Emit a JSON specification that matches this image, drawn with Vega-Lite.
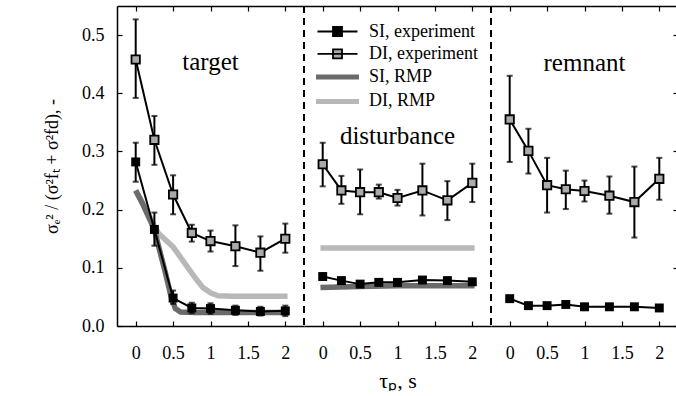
{
  "$schema": "https://vega.github.io/schema/vega-lite/v6.json",
  "padding": {"left": 43, "top": 5, "right": 0, "bottom": 0},
  "spacing": 0,
  "bounds": "flush",
  "datasets": {
    "exp": [
      {"panel": "target", "series": "SI, experiment", "x": 0, "y": 0.282, "lo": 0.248, "hi": 0.315},
      {"panel": "target", "series": "SI, experiment", "x": 0.25, "y": 0.166, "lo": 0.138, "hi": 0.195},
      {"panel": "target", "series": "SI, experiment", "x": 0.5, "y": 0.048, "lo": 0.038, "hi": 0.061},
      {"panel": "target", "series": "SI, experiment", "x": 0.75, "y": 0.031, "lo": 0.022, "hi": 0.040},
      {"panel": "target", "series": "SI, experiment", "x": 1, "y": 0.030, "lo": 0.021, "hi": 0.039},
      {"panel": "target", "series": "SI, experiment", "x": 1.333, "y": 0.027, "lo": 0.019, "hi": 0.035},
      {"panel": "target", "series": "SI, experiment", "x": 1.667, "y": 0.025, "lo": 0.018, "hi": 0.033},
      {"panel": "target", "series": "SI, experiment", "x": 2, "y": 0.026, "lo": 0.017, "hi": 0.035},
      {"panel": "target", "series": "DI, experiment", "x": 0, "y": 0.458, "lo": 0.392, "hi": 0.527},
      {"panel": "target", "series": "DI, experiment", "x": 0.25, "y": 0.320, "lo": 0.277, "hi": 0.361},
      {"panel": "target", "series": "DI, experiment", "x": 0.5, "y": 0.226, "lo": 0.192, "hi": 0.259},
      {"panel": "target", "series": "DI, experiment", "x": 0.75, "y": 0.160, "lo": 0.145, "hi": 0.174},
      {"panel": "target", "series": "DI, experiment", "x": 1, "y": 0.146, "lo": 0.128, "hi": 0.164},
      {"panel": "target", "series": "DI, experiment", "x": 1.333, "y": 0.137, "lo": 0.103, "hi": 0.173},
      {"panel": "target", "series": "DI, experiment", "x": 1.667, "y": 0.126, "lo": 0.095, "hi": 0.154},
      {"panel": "target", "series": "DI, experiment", "x": 2, "y": 0.150, "lo": 0.126, "hi": 0.176},
      {"panel": "disturbance", "series": "SI, experiment", "x": 0, "y": 0.085, "lo": 0.080, "hi": 0.090},
      {"panel": "disturbance", "series": "SI, experiment", "x": 0.25, "y": 0.078, "lo": 0.073, "hi": 0.083},
      {"panel": "disturbance", "series": "SI, experiment", "x": 0.5, "y": 0.072, "lo": 0.067, "hi": 0.077},
      {"panel": "disturbance", "series": "SI, experiment", "x": 0.75, "y": 0.075, "lo": 0.070, "hi": 0.080},
      {"panel": "disturbance", "series": "SI, experiment", "x": 1, "y": 0.075, "lo": 0.070, "hi": 0.080},
      {"panel": "disturbance", "series": "SI, experiment", "x": 1.333, "y": 0.079, "lo": 0.074, "hi": 0.084},
      {"panel": "disturbance", "series": "SI, experiment", "x": 1.667, "y": 0.078, "lo": 0.073, "hi": 0.083},
      {"panel": "disturbance", "series": "SI, experiment", "x": 2, "y": 0.076, "lo": 0.071, "hi": 0.081},
      {"panel": "disturbance", "series": "DI, experiment", "x": 0, "y": 0.278, "lo": 0.240, "hi": 0.315},
      {"panel": "disturbance", "series": "DI, experiment", "x": 0.25, "y": 0.233, "lo": 0.210, "hi": 0.258},
      {"panel": "disturbance", "series": "DI, experiment", "x": 0.5, "y": 0.230, "lo": 0.192, "hi": 0.269},
      {"panel": "disturbance", "series": "DI, experiment", "x": 0.75, "y": 0.230, "lo": 0.219, "hi": 0.243},
      {"panel": "disturbance", "series": "DI, experiment", "x": 1, "y": 0.220, "lo": 0.207, "hi": 0.234},
      {"panel": "disturbance", "series": "DI, experiment", "x": 1.333, "y": 0.233, "lo": 0.190, "hi": 0.279},
      {"panel": "disturbance", "series": "DI, experiment", "x": 1.667, "y": 0.216, "lo": 0.182, "hi": 0.249},
      {"panel": "disturbance", "series": "DI, experiment", "x": 2, "y": 0.246, "lo": 0.213, "hi": 0.279},
      {"panel": "remnant", "series": "SI, experiment", "x": 0, "y": 0.047, "lo": 0.043, "hi": 0.051},
      {"panel": "remnant", "series": "SI, experiment", "x": 0.25, "y": 0.035, "lo": 0.031, "hi": 0.039},
      {"panel": "remnant", "series": "SI, experiment", "x": 0.5, "y": 0.035, "lo": 0.031, "hi": 0.039},
      {"panel": "remnant", "series": "SI, experiment", "x": 0.75, "y": 0.037, "lo": 0.033, "hi": 0.041},
      {"panel": "remnant", "series": "SI, experiment", "x": 1, "y": 0.033, "lo": 0.029, "hi": 0.037},
      {"panel": "remnant", "series": "SI, experiment", "x": 1.333, "y": 0.033, "lo": 0.029, "hi": 0.037},
      {"panel": "remnant", "series": "SI, experiment", "x": 1.667, "y": 0.033, "lo": 0.029, "hi": 0.037},
      {"panel": "remnant", "series": "SI, experiment", "x": 2, "y": 0.031, "lo": 0.027, "hi": 0.035},
      {"panel": "remnant", "series": "DI, experiment", "x": 0, "y": 0.355, "lo": 0.282, "hi": 0.430},
      {"panel": "remnant", "series": "DI, experiment", "x": 0.25, "y": 0.301, "lo": 0.262, "hi": 0.339},
      {"panel": "remnant", "series": "DI, experiment", "x": 0.5, "y": 0.242, "lo": 0.195, "hi": 0.289},
      {"panel": "remnant", "series": "DI, experiment", "x": 0.75, "y": 0.235, "lo": 0.201, "hi": 0.267},
      {"panel": "remnant", "series": "DI, experiment", "x": 1, "y": 0.232, "lo": 0.214, "hi": 0.250},
      {"panel": "remnant", "series": "DI, experiment", "x": 1.333, "y": 0.224, "lo": 0.193, "hi": 0.257},
      {"panel": "remnant", "series": "DI, experiment", "x": 1.667, "y": 0.213, "lo": 0.152, "hi": 0.274},
      {"panel": "remnant", "series": "DI, experiment", "x": 2, "y": 0.253, "lo": 0.217, "hi": 0.289}
    ],
    "rmp": [
      {"panel": "target", "series": "SI, RMP", "x": 0, "y": 0.233},
      {"panel": "target", "series": "SI, RMP", "x": 0.1, "y": 0.208},
      {"panel": "target", "series": "SI, RMP", "x": 0.2, "y": 0.18},
      {"panel": "target", "series": "SI, RMP", "x": 0.25, "y": 0.165},
      {"panel": "target", "series": "SI, RMP", "x": 0.3, "y": 0.14},
      {"panel": "target", "series": "SI, RMP", "x": 0.4, "y": 0.09},
      {"panel": "target", "series": "SI, RMP", "x": 0.47, "y": 0.052},
      {"panel": "target", "series": "SI, RMP", "x": 0.53, "y": 0.03},
      {"panel": "target", "series": "SI, RMP", "x": 0.6, "y": 0.024},
      {"panel": "target", "series": "SI, RMP", "x": 0.8, "y": 0.023},
      {"panel": "target", "series": "SI, RMP", "x": 2.03, "y": 0.023},
      {"panel": "target", "series": "DI, RMP", "x": 0, "y": 0.233},
      {"panel": "target", "series": "DI, RMP", "x": 0.1, "y": 0.21},
      {"panel": "target", "series": "DI, RMP", "x": 0.2, "y": 0.185},
      {"panel": "target", "series": "DI, RMP", "x": 0.25, "y": 0.172},
      {"panel": "target", "series": "DI, RMP", "x": 0.3, "y": 0.16},
      {"panel": "target", "series": "DI, RMP", "x": 0.4, "y": 0.148},
      {"panel": "target", "series": "DI, RMP", "x": 0.5, "y": 0.136},
      {"panel": "target", "series": "DI, RMP", "x": 0.6, "y": 0.118},
      {"panel": "target", "series": "DI, RMP", "x": 0.7, "y": 0.1},
      {"panel": "target", "series": "DI, RMP", "x": 0.8, "y": 0.082},
      {"panel": "target", "series": "DI, RMP", "x": 0.9, "y": 0.066},
      {"panel": "target", "series": "DI, RMP", "x": 1.0, "y": 0.057},
      {"panel": "target", "series": "DI, RMP", "x": 1.1, "y": 0.052},
      {"panel": "target", "series": "DI, RMP", "x": 1.3, "y": 0.051},
      {"panel": "target", "series": "DI, RMP", "x": 2.03, "y": 0.051},
      {"panel": "disturbance", "series": "SI, RMP", "x": -0.03, "y": 0.066},
      {"panel": "disturbance", "series": "SI, RMP", "x": 0.5, "y": 0.068},
      {"panel": "disturbance", "series": "SI, RMP", "x": 1, "y": 0.069},
      {"panel": "disturbance", "series": "SI, RMP", "x": 2.03, "y": 0.069},
      {"panel": "disturbance", "series": "DI, RMP", "x": -0.03, "y": 0.134},
      {"panel": "disturbance", "series": "DI, RMP", "x": 2.03, "y": 0.134}
    ],
    "lab": [
      {"panel": "target", "x": 1.0, "y": 0.44, "label": "target"},
      {"panel": "disturbance", "x": 1.0, "y": 0.312, "label": "disturbance"},
      {"panel": "remnant", "x": 1.0, "y": 0.439, "label": "remnant"}
    ]
  },
  "hconcat": [
    {
      "width": 187, "height": 320,
      "layer": [
        {
          "encoding": {
            "x": {"field": "x", "type": "quantitative", "scale": {"domain": [-0.25, 2.25], "nice": false, "zero": false},
                  "axis": {"orient": "bottom", "values": [0, 0.5, 1, 1.5, 2], "format": "~g", "tickSize": -5, "labelPadding": 23, "title": null}},
            "y": {"field": "y", "type": "quantitative", "scale": {"domain": [0, 0.55], "nice": false},
                  "axis": {"orient": "left", "values": [0, 0.1, 0.2, 0.3, 0.4, 0.5], "format": ".1f", "tickSize": -5, "labelPadding": 18, "title": "σₑ² / (σ²fₜ + σ²fd), -", "titleFontSize": 18, "titlePadding": 20}}
          },
          "layer": [
            {"data": {"name": "rmp"}, "transform": [{"filter": "datum.panel == 'target' && datum.series == 'DI, RMP'"}],
             "mark": {"type": "line", "color": "#b8b8b8", "strokeWidth": 5.5}},
            {"data": {"name": "rmp"}, "transform": [{"filter": "datum.panel == 'target' && datum.series == 'SI, RMP'"}],
             "mark": {"type": "line", "color": "#6b6b6b", "strokeWidth": 5.5}},
            {"data": {"name": "exp"}, "transform": [{"filter": "datum.panel == 'target'"}],
             "mark": {"type": "line", "color": "black", "strokeWidth": 2},
             "encoding": {"detail": {"field": "series"}}},
            {"data": {"name": "exp"}, "transform": [{"filter": "datum.panel == 'target'"}],
             "mark": {"type": "errorbar", "color": "black", "thickness": 2, "ticks": {"size": 6, "thickness": 2, "color": "black"}},
             "encoding": {"y": {"field": "lo", "type": "quantitative"}, "y2": {"field": "hi"}}},
            {"data": {"name": "exp"}, "transform": [{"filter": "datum.panel == 'target' && datum.series == 'SI, experiment'"}],
             "mark": {"type": "square", "size": 80, "color": "black", "opacity": 1}},
            {"data": {"name": "exp"}, "transform": [{"filter": "datum.panel == 'target' && datum.series == 'DI, experiment'"}],
             "mark": {"type": "square", "size": 70, "fill": "#aaaaaa", "stroke": "black", "strokeWidth": 1.8, "opacity": 1}}
          ]
        },
        {"data": {"name": "lab"}, "transform": [{"filter": "datum.panel == 'target'"}],
         "mark": {"type": "rule", "color": "black", "strokeWidth": 2, "strokeDash": [7, 5]},
         "encoding": {"x": {"datum": 2.25, "type": "quantitative", "scale": {"domain": [-0.25, 2.25], "nice": false, "zero": false}, "axis": null}}},
        {"data": {"name": "lab"}, "transform": [{"filter": "datum.panel == 'target'"}],
         "mark": {"type": "text", "font": "Liberation Serif", "fontSize": 25, "baseline": "alphabetic", "align": "center", "color": "black"},
         "encoding": {
           "x": {"field": "x", "type": "quantitative", "scale": {"domain": [-0.25, 2.25], "nice": false, "zero": false},
                 "axis": {"orient": "top", "values": [0, 0.5, 1, 1.5, 2], "labels": false, "tickSize": -5, "title": null}},
           "y": {"field": "y", "type": "quantitative", "scale": {"domain": [0, 0.55], "nice": false}, "axis": null},
           "text": {"field": "label"}
         }}
      ],
      "resolve": {"axis": {"x": "independent", "y": "independent"}}
    },
    {
      "width": 187, "height": 320,
      "layer": [
        {
          "encoding": {
            "x": {"field": "x", "type": "quantitative", "scale": {"domain": [-0.25, 2.25], "nice": false, "zero": false},
                  "axis": {"orient": "bottom", "values": [0, 0.5, 1, 1.5, 2], "format": "~g", "tickSize": -5, "labelPadding": 23, "title": "τₚ, s", "titleFontSize": 22, "titlePadding": 8}},
            "y": {"field": "y", "type": "quantitative", "scale": {"domain": [0, 0.55], "nice": false}, "axis": null}
          },
          "layer": [
            {"data": {"name": "rmp"}, "transform": [{"filter": "datum.panel == 'disturbance' && datum.series == 'DI, RMP'"}],
             "mark": {"type": "line", "color": "#b8b8b8", "strokeWidth": 5.5}},
            {"data": {"name": "rmp"}, "transform": [{"filter": "datum.panel == 'disturbance' && datum.series == 'SI, RMP'"}],
             "mark": {"type": "line", "color": "#6b6b6b", "strokeWidth": 5.5}},
            {"data": {"name": "exp"}, "transform": [{"filter": "datum.panel == 'disturbance'"}],
             "mark": {"type": "line", "color": "black", "strokeWidth": 2},
             "encoding": {"detail": {"field": "series"}}},
            {"data": {"name": "exp"}, "transform": [{"filter": "datum.panel == 'disturbance'"}],
             "mark": {"type": "errorbar", "color": "black", "thickness": 2, "ticks": {"size": 6, "thickness": 2, "color": "black"}},
             "encoding": {"y": {"field": "lo", "type": "quantitative"}, "y2": {"field": "hi"}}},
            {"data": {"name": "exp"}, "transform": [{"filter": "datum.panel == 'disturbance' && datum.series == 'SI, experiment'"}],
             "mark": {"type": "square", "size": 80, "color": "black", "opacity": 1}},
            {"data": {"name": "exp"}, "transform": [{"filter": "datum.panel == 'disturbance' && datum.series == 'DI, experiment'"}],
             "mark": {"type": "square", "size": 70, "fill": "#aaaaaa", "stroke": "black", "strokeWidth": 1.8, "opacity": 1}},
            {"data": {"name": "exp"}, "transform": [{"filter": "datum.panel == 'legend-only'"}],
             "mark": {"type": "point", "filled": true, "opacity": 1},
             "encoding": {
               "shape": {"field": "series", "type": "nominal",
                         "scale": {"domain": ["SI, experiment", "DI, experiment", "SI, RMP", "DI, RMP"],
                                   "range": ["M-4,0H4M-0.9,-0.9H0.9V0.9H-0.9Z", "M-4,0H4M-0.9,-0.9H0.9V0.9H-0.9Z", "M-4.3,0H4.3", "M-4.3,0H4.3"]},
                         "legend": {"title": null, "orient": "none", "legendX": 211.5, "legendY": 16.5, "labelOffset": 22.5, "rowPadding": 4.3, "padding": 0, "symbolSize": 100}},
               "fill": {"field": "series", "type": "nominal",
                        "scale": {"domain": ["SI, experiment", "DI, experiment", "SI, RMP", "DI, RMP"],
                                  "range": ["black", "#aaaaaa", "transparent", "transparent"]},
                        "legend": {"title": null, "orient": "none", "legendX": 211.5, "legendY": 16.5, "labelOffset": 22.5, "rowPadding": 4.3, "padding": 0, "symbolSize": 100}},
               "stroke": {"field": "series", "type": "nominal",
                          "scale": {"domain": ["SI, experiment", "DI, experiment", "SI, RMP", "DI, RMP"],
                                    "range": ["black", "black", "#6b6b6b", "#b8b8b8"]},
                          "legend": {"title": null, "orient": "none", "legendX": 211.5, "legendY": 16.5, "labelOffset": 22.5, "rowPadding": 4.3, "padding": 0, "symbolSize": 100}},
               "strokeWidth": {"field": "series", "type": "nominal",
                               "scale": {"type": "ordinal", "domain": ["SI, experiment", "DI, experiment", "SI, RMP", "DI, RMP"],
                                         "range": [1.8, 1.8, 5, 5]},
                               "legend": {"title": null, "orient": "none", "legendX": 211.5, "legendY": 16.5, "labelOffset": 22.5, "rowPadding": 4.3, "padding": 0, "symbolSize": 100}}
             }}
          ]
        },
        {"data": {"name": "lab"}, "transform": [{"filter": "datum.panel == 'disturbance'"}],
         "mark": {"type": "rule", "color": "black", "strokeWidth": 2, "strokeDash": [7, 5]},
         "encoding": {"x": {"datum": 2.25, "type": "quantitative", "scale": {"domain": [-0.25, 2.25], "nice": false, "zero": false}, "axis": null}}},
        {"data": {"name": "lab"}, "transform": [{"filter": "datum.panel == 'disturbance'"}],
         "mark": {"type": "text", "font": "Liberation Serif", "fontSize": 25, "baseline": "alphabetic", "align": "center", "color": "black"},
         "encoding": {
           "x": {"field": "x", "type": "quantitative", "scale": {"domain": [-0.25, 2.25], "nice": false, "zero": false},
                 "axis": {"orient": "top", "values": [0, 0.5, 1, 1.5, 2], "labels": false, "tickSize": -5, "title": null}},
           "y": {"field": "y", "type": "quantitative", "scale": {"domain": [0, 0.55], "nice": false}, "axis": null},
           "text": {"field": "label"}
         }}
      ],
      "resolve": {"axis": {"x": "independent", "y": "independent"}}
    },
    {
      "width": 187, "height": 320,
      "layer": [
        {
          "encoding": {
            "x": {"field": "x", "type": "quantitative", "scale": {"domain": [-0.25, 2.25], "nice": false, "zero": false},
                  "axis": {"orient": "bottom", "values": [0, 0.5, 1, 1.5, 2], "format": "~g", "tickSize": -5, "labelPadding": 23, "title": null}},
            "y": {"field": "y", "type": "quantitative", "scale": {"domain": [0, 0.55], "nice": false}, "axis": null}
          },
          "layer": [
            {"data": {"name": "exp"}, "transform": [{"filter": "datum.panel == 'remnant'"}],
             "mark": {"type": "line", "color": "black", "strokeWidth": 2},
             "encoding": {"detail": {"field": "series"}}},
            {"data": {"name": "exp"}, "transform": [{"filter": "datum.panel == 'remnant'"}],
             "mark": {"type": "errorbar", "color": "black", "thickness": 2, "ticks": {"size": 6, "thickness": 2, "color": "black"}},
             "encoding": {"y": {"field": "lo", "type": "quantitative"}, "y2": {"field": "hi"}}},
            {"data": {"name": "exp"}, "transform": [{"filter": "datum.panel == 'remnant' && datum.series == 'SI, experiment'"}],
             "mark": {"type": "square", "size": 80, "color": "black", "opacity": 1}},
            {"data": {"name": "exp"}, "transform": [{"filter": "datum.panel == 'remnant' && datum.series == 'DI, experiment'"}],
             "mark": {"type": "square", "size": 70, "fill": "#aaaaaa", "stroke": "black", "strokeWidth": 1.8, "opacity": 1}}
          ]
        },
        {"data": {"name": "lab"}, "transform": [{"filter": "datum.panel == 'remnant'"}],
         "mark": {"type": "text", "font": "Liberation Serif", "fontSize": 25, "baseline": "alphabetic", "align": "center", "color": "black"},
         "encoding": {
           "x": {"field": "x", "type": "quantitative", "scale": {"domain": [-0.25, 2.25], "nice": false, "zero": false},
                 "axis": {"orient": "top", "values": [0, 0.5, 1, 1.5, 2], "labels": false, "tickSize": -5, "title": null}},
           "y": {"field": "y", "type": "quantitative", "scale": {"domain": [0, 0.55], "nice": false},
                 "axis": {"orient": "right", "values": [0, 0.1, 0.2, 0.3, 0.4, 0.5], "labels": false, "tickSize": -5, "title": null}},
           "text": {"field": "label"}
         }}
      ],
      "resolve": {"axis": {"x": "independent", "y": "independent"}}
    }
  ],
  "config": {
    "view": {"stroke": null},
    "axis": {"grid": false, "domainColor": "black", "domainWidth": 1.5, "tickColor": "black", "tickWidth": 1.2,
             "labelFont": "Liberation Serif", "labelFontSize": 18, "labelColor": "black",
             "titleFont": "Liberation Serif", "titleColor": "black", "titleFontWeight": "normal"},
    "legend": {"labelFont": "Liberation Serif", "labelFontSize": 18, "labelColor": "black", "labelLimit": 300}
  }
}
